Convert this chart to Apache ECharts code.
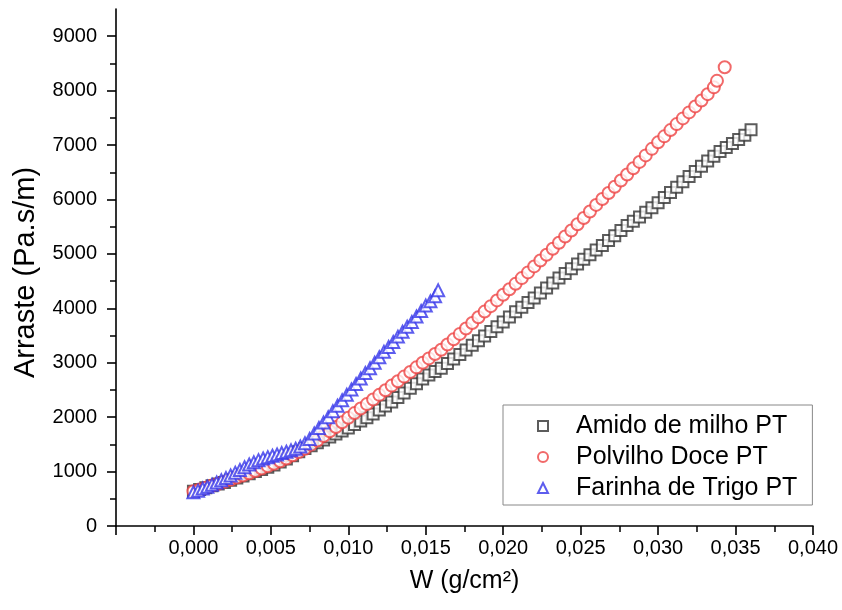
<!DOCTYPE html>
<html>
<head>
<meta charset="utf-8">
<script src="https://cdn.jsdelivr.net/npm/echarts@6/dist/echarts.min.js"></script>
<style>
  html, body { margin: 0; padding: 0; background: #fff; }
  #chart { width: 842px; height: 610px; }
</style>
</head>
<body>
<div id="chart"></div>
<script>
// Drag (Pa.s/m) against W (g/cm²) for three starch/flour samples
const seriesNames = ['Amido de milho PT', 'Polvilho Doce PT', 'Farinha de Trigo PT'];

const amidoData = [
  [0.0000, 640], [0.0004, 670], [0.0008, 705], [0.0012, 740], [0.0016, 770],
  [0.0020, 800], [0.0024, 840], [0.0028, 880], [0.0032, 920], [0.0036, 960],
  [0.0040, 1000], [0.0044, 1040], [0.0048, 1080], [0.0052, 1120], [0.0056, 1175],
  [0.0060, 1230], [0.0064, 1290], [0.0068, 1365], [0.0072, 1425], [0.0076, 1475],
  [0.0080, 1530], [0.0084, 1580], [0.0088, 1635], [0.0092, 1690], [0.0096, 1745],
  [0.0100, 1800], [0.0104, 1865], [0.0108, 1930], [0.0112, 1990], [0.0116, 2060],
  [0.0120, 2130], [0.0124, 2205], [0.0128, 2280], [0.0132, 2360], [0.0136, 2445],
  [0.0140, 2530], [0.0144, 2615], [0.0148, 2700], [0.0152, 2775], [0.0156, 2840],
  [0.0160, 2900], [0.0164, 2985], [0.0168, 3070], [0.0172, 3150], [0.0176, 3235],
  [0.0180, 3320], [0.0184, 3405], [0.0188, 3490], [0.0192, 3575], [0.0196, 3660],
  [0.0200, 3750], [0.0204, 3840], [0.0208, 3935], [0.0212, 4020], [0.0216, 4105],
  [0.0220, 4190], [0.0224, 4280], [0.0228, 4375], [0.0232, 4465], [0.0236, 4555],
  [0.0240, 4640], [0.0244, 4725], [0.0248, 4815], [0.0252, 4900], [0.0256, 4985],
  [0.0260, 5070], [0.0264, 5155], [0.0268, 5245], [0.0272, 5335], [0.0276, 5430],
  [0.0280, 5520], [0.0284, 5600], [0.0288, 5680], [0.0292, 5765], [0.0296, 5850],
  [0.0300, 5940], [0.0304, 6035], [0.0308, 6130], [0.0312, 6225], [0.0316, 6325],
  [0.0320, 6420], [0.0324, 6515], [0.0328, 6610], [0.0332, 6705], [0.0336, 6795],
  [0.0340, 6880], [0.0344, 6955], [0.0348, 7030], [0.0352, 7100], [0.0356, 7180],
  [0.0360, 7280]
];

const polvilhoData = [
  [0.0000, 640], [0.0004, 670], [0.0008, 705], [0.0012, 745], [0.0016, 775],
  [0.0020, 810], [0.0024, 850], [0.0028, 890], [0.0032, 930], [0.0036, 970],
  [0.0040, 1010], [0.0044, 1055], [0.0048, 1100], [0.0052, 1145], [0.0056, 1190],
  [0.0060, 1240], [0.0064, 1300], [0.0068, 1360], [0.0072, 1420], [0.0076, 1495],
  [0.0080, 1570], [0.0084, 1655], [0.0088, 1740], [0.0092, 1820], [0.0096, 1905],
  [0.0100, 1990], [0.0104, 2075], [0.0108, 2160], [0.0112, 2240], [0.0116, 2325],
  [0.0120, 2410], [0.0124, 2495], [0.0128, 2580], [0.0132, 2660], [0.0136, 2745],
  [0.0140, 2830], [0.0144, 2915], [0.0148, 3000], [0.0152, 3080], [0.0156, 3160],
  [0.0160, 3240], [0.0164, 3335], [0.0168, 3430], [0.0172, 3530], [0.0176, 3630],
  [0.0180, 3730], [0.0184, 3835], [0.0188, 3940], [0.0192, 4040], [0.0196, 4145],
  [0.0200, 4250], [0.0204, 4350], [0.0208, 4450], [0.0212, 4555], [0.0216, 4660],
  [0.0220, 4770], [0.0224, 4880], [0.0228, 4985], [0.0232, 5095], [0.0236, 5205],
  [0.0240, 5320], [0.0244, 5430], [0.0248, 5545], [0.0252, 5660], [0.0256, 5780],
  [0.0260, 5900], [0.0264, 6010], [0.0268, 6120], [0.0272, 6235], [0.0276, 6350],
  [0.0280, 6460], [0.0284, 6575], [0.0288, 6690], [0.0292, 6810], [0.0296, 6930],
  [0.0300, 7050], [0.0304, 7160], [0.0308, 7275], [0.0312, 7385], [0.0316, 7490],
  [0.0320, 7600], [0.0324, 7710], [0.0328, 7820], [0.0332, 7935], [0.0336, 8060],
  [0.0338, 8180], [0.0343, 8430]
];

const farinhaData = [
  [0.0000, 620], [0.0003, 650], [0.0006, 690], [0.0009, 720], [0.0012, 760],
  [0.0015, 800], [0.0018, 840], [0.0021, 880], [0.0024, 930], [0.0027, 980],
  [0.0030, 1030], [0.0033, 1080], [0.0036, 1130], [0.0039, 1170], [0.0042, 1210],
  [0.0045, 1240], [0.0048, 1265], [0.0051, 1290], [0.0054, 1315], [0.0057, 1340],
  [0.0060, 1365], [0.0063, 1390], [0.0066, 1420], [0.0069, 1460], [0.0072, 1520],
  [0.0075, 1600], [0.0078, 1700], [0.0081, 1800], [0.0084, 1900], [0.0087, 2000],
  [0.0090, 2110], [0.0093, 2210], [0.0096, 2310], [0.0099, 2410], [0.0102, 2510],
  [0.0105, 2610], [0.0108, 2710], [0.0111, 2810], [0.0114, 2900], [0.0117, 3000],
  [0.0120, 3100], [0.0123, 3200], [0.0126, 3290], [0.0129, 3380], [0.0132, 3480],
  [0.0135, 3570], [0.0138, 3660], [0.0141, 3750], [0.0144, 3850], [0.0147, 3950],
  [0.0150, 4050], [0.0153, 4130], [0.0156, 4220], [0.0158, 4330]
];

// Axis ticks
const yMajorTicks = [0, 1000, 2000, 3000, 4000, 5000, 6000, 7000, 8000, 9000];
const yMinorTicks = [500, 1500, 2500, 3500, 4500, 5500, 6500, 7500, 8500];
const xMin = -0.005, xMax = 0.040, xStep = 0.005;
const yMin = 0, yMax = 9500;

const FONT = '"Liberation Sans", Arial, sans-serif';
const colors = ['#333333', '#ee4444', '#3535ea'];

const chart = echarts.init(document.getElementById('chart'), null, { renderer: 'canvas' });

const axisLineStyle = { color: '#000', width: 1.6 };

chart.setOption({
  backgroundColor: '#ffffff',
  animation: false,
  textStyle: { fontFamily: FONT },
  grid: { left: 116, right: 29, top: 9, bottom: 84 },
  legend: {
    orient: 'vertical',
    left: 503,
    top: 405,
    padding: [8, 15, 4, 34],
    itemWidth: 10,
    itemHeight: 10,
    itemGap: 5,
    borderColor: '#888',
    borderWidth: 1,
    backgroundColor: '#fff',
    textStyle: { fontFamily: FONT, fontSize: 25, color: '#000', lineHeight: 26, padding: [0, 0, 0, 23] },
    data: seriesNames
  },
  xAxis: {
    type: 'value',
    min: xMin,
    max: xMax,
    interval: xStep,
    name: 'W (g/cm²)',
    nameLocation: 'middle',
    nameGap: 43,
    nameTextStyle: { fontFamily: FONT, fontSize: 25, color: '#000' },
    axisLine: { show: true, onZero: false, lineStyle: axisLineStyle },
    axisTick: { show: true, inside: false, length: 9, lineStyle: axisLineStyle },
    minorTick: { show: true, splitNumber: 2, length: 6, lineStyle: { color: '#000', width: 1.5 } },
    splitLine: { show: false },
    axisLabel: {
      fontFamily: FONT, fontSize: 20, color: '#000', margin: 12,
      formatter: v => (v < -0.0001 ? '' : v.toFixed(3).replace('.', ','))
    }
  },
  yAxis: [
    {
      type: 'value',
      min: yMin,
      max: yMax,
      name: 'Arraste (Pa.s/m)',
      nameLocation: 'middle',
      nameGap: 76,
      nameTextStyle: { fontFamily: FONT, fontSize: 29, color: '#000', padding: [0, 10, 0, 0] },
      axisLine: { show: true, onZero: false, lineStyle: axisLineStyle },
      axisTick: { show: true, inside: false, length: 9, customValues: yMajorTicks, lineStyle: axisLineStyle },
      splitLine: { show: false },
      axisLabel: {
        fontFamily: FONT, fontSize: 20, color: '#000', margin: 19, customValues: yMajorTicks,
        formatter: v => String(Math.round(v))
      }
    },
    {
      type: 'value',
      min: yMin,
      max: yMax,
      position: 'left',
      axisLine: { show: false, onZero: false },
      axisTick: { show: true, inside: false, length: 6, customValues: yMinorTicks, lineStyle: { color: '#000', width: 1.5 } },
      splitLine: { show: false },
      axisLabel: { show: false }
    }
  ],
  series: [
    {
      name: seriesNames[0], type: 'scatter', data: amidoData,
      symbol: 'emptyRect', symbolSize: 11,
      itemStyle: { color: colors[0], borderWidth: 1 }
    },
    {
      name: seriesNames[1], type: 'scatter', data: polvilhoData,
      symbol: 'emptyCircle', symbolSize: 12,
      itemStyle: { color: colors[1], borderWidth: 1 }
    },
    {
      name: seriesNames[2], type: 'scatter', data: farinhaData,
      symbol: 'emptyTriangle', symbolSize: 12,
      itemStyle: { color: colors[2], borderWidth: 1 }
    }
  ]
});
</script>
</body>
</html>
